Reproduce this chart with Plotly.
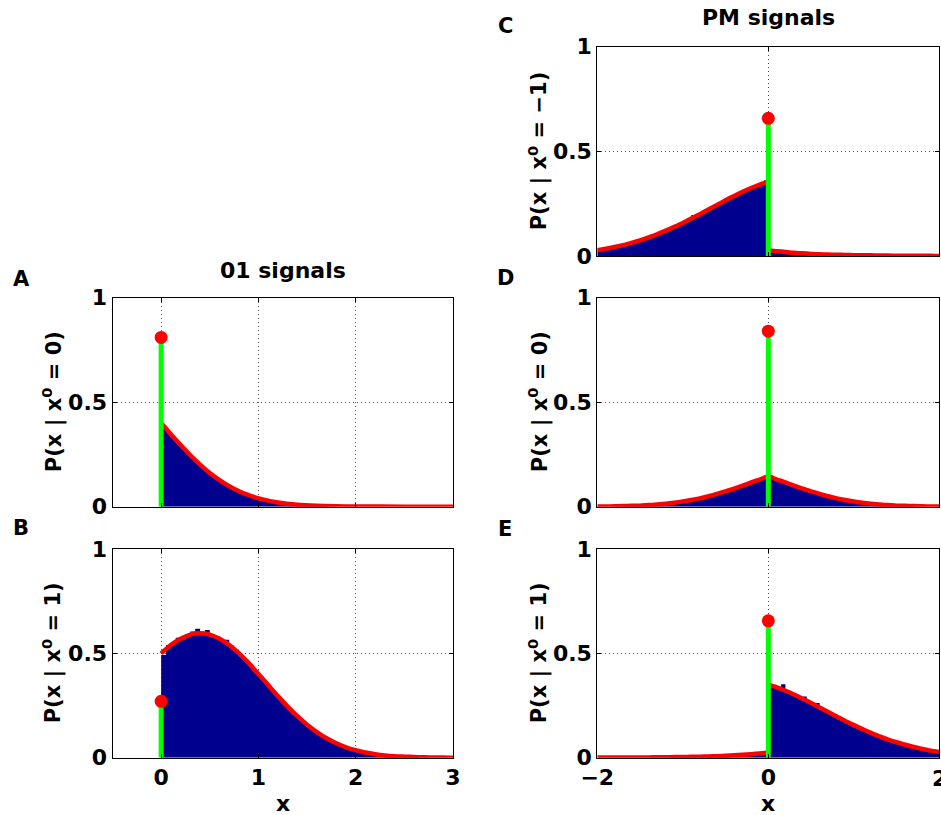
import numpy as np
import plotly.graph_objects as go

# ---------------- data ----------------
BIN_WIDTH = 0.05

# Panel A: 01 signals, x0 = 0
A_hist_start = 0.0
A_hist = [0.384, 0.362, 0.330, 0.309, 0.280, 0.259, 0.236, 0.210, 0.191, 0.170,
          0.153, 0.134, 0.120, 0.104, 0.092, 0.079, 0.070, 0.059, 0.051, 0.043,
          0.037, 0.031, 0.026, 0.022, 0.018, 0.015, 0.013, 0.010, 0.008, 0.007,
          0.006, 0.004, 0.004, 0.003, 0.002, 0.002, 0.001, 0.001, 0.001, 0.001]
A_curve_x = [0, 0.1, 0.2, 0.3, 0.4, 0.5, 0.6, 0.7, 0.8, 0.9, 1.0, 1.2, 1.4, 1.6, 1.8, 2.0, 2.5, 3.0]
A_curve_y = [0.400, 0.347, 0.295, 0.246, 0.201, 0.161, 0.127, 0.098, 0.074, 0.055,
             0.040, 0.020, 0.009, 0.004, 0.002, 0.001, 0.000, 0.000]
A_delta = 0.81

# Panel B: 01 signals, x0 = 1
B_hist_start = 0.0
B_hist = [0.492, 0.540, 0.552, 0.575, 0.568, 0.590, 0.605, 0.618, 0.598, 0.612,
          0.580, 0.583, 0.560, 0.565, 0.538, 0.517, 0.485, 0.470, 0.440, 0.420,
          0.392, 0.366, 0.338, 0.306, 0.285, 0.254, 0.236, 0.207, 0.190, 0.165,
          0.150, 0.129, 0.116, 0.098, 0.087, 0.074, 0.065, 0.054, 0.047, 0.039,
          0.033, 0.027, 0.023, 0.019, 0.015, 0.013, 0.010, 0.008, 0.007, 0.005,
          0.004, 0.003, 0.003, 0.002, 0.002, 0.001, 0.001, 0.001, 0.001, 0.000]
B_curve_x = [0.0, 0.1, 0.2, 0.3, 0.4, 0.5, 0.6, 0.7, 0.8, 0.9, 1.0, 1.1, 1.2, 1.3, 1.4, 1.5,
             1.6, 1.7, 1.8, 1.9, 2.0, 2.1, 2.2, 2.3, 2.4, 2.5, 2.6, 2.7, 2.8, 2.9, 3.0]
B_curve_y = [0.500, 0.540, 0.570, 0.590, 0.596, 0.590, 0.570, 0.540, 0.500, 0.453,
             0.401, 0.348, 0.295, 0.245, 0.199, 0.158, 0.123, 0.093, 0.069, 0.050,
             0.036, 0.025, 0.017, 0.011, 0.007, 0.005, 0.003, 0.002, 0.001, 0.001, 0.000]
B_delta = 0.27

# Right column grid for curves
PM_left_x = [-2.0, -1.9, -1.8, -1.7, -1.6, -1.5, -1.4, -1.3, -1.2, -1.1, -1.0,
             -0.9, -0.8, -0.7, -0.6, -0.5, -0.4, -0.3, -0.2, -0.1, 0.0]
PM_right_x = [0.0, 0.1, 0.2, 0.3, 0.4, 0.5, 0.6, 0.7, 0.8, 0.9, 1.0,
              1.1, 1.2, 1.3, 1.4, 1.5, 1.6, 1.7, 1.8, 1.9, 2.0]
PM_hist_start = -2.0

# Panel C: PM signals, x0 = -1
C_hist = [0.028, 0.032, 0.035, 0.041, 0.047, 0.048, 0.055, 0.058, 0.066, 0.070,
          0.080, 0.083, 0.093, 0.098, 0.110, 0.114, 0.126, 0.131, 0.146, 0.150,
          0.166, 0.170, 0.196, 0.190, 0.208, 0.213, 0.231, 0.236, 0.252, 0.257,
          0.274, 0.278, 0.295, 0.298, 0.316, 0.318, 0.333, 0.334, 0.348, 0.362,
          0.026, 0.024, 0.022, 0.020, 0.018, 0.016, 0.015, 0.013, 0.012, 0.011,
          0.010, 0.009, 0.008, 0.007, 0.007, 0.006, 0.005, 0.005, 0.004, 0.004,
          0.004, 0.003, 0.003, 0.003, 0.002, 0.002, 0.002, 0.002, 0.002, 0.001,
          0.001, 0.001, 0.001, 0.001, 0.001, 0.001, 0.001, 0.001, 0.000, 0.000]
C_left_y = [0.028, 0.035, 0.043, 0.052, 0.063, 0.075, 0.089, 0.104, 0.121, 0.139, 0.158,
            0.179, 0.200, 0.222, 0.244, 0.266, 0.287, 0.307, 0.325, 0.341, 0.355]
C_right_y = [0.028, 0.023, 0.019, 0.015, 0.013, 0.010, 0.008, 0.007, 0.006, 0.005, 0.004,
             0.003, 0.003, 0.002, 0.002, 0.001, 0.001, 0.001, 0.001, 0.001, 0.000]
C_delta = 0.658

# Panel D: PM signals, x0 = 0
D_hist = [0.001, 0.001, 0.001, 0.002, 0.002, 0.002, 0.003, 0.004, 0.004, 0.005,
          0.006, 0.007, 0.008, 0.010, 0.011, 0.013, 0.015, 0.018, 0.020, 0.023,
          0.026, 0.030, 0.033, 0.038, 0.042, 0.047, 0.052, 0.058, 0.064, 0.070,
          0.077, 0.083, 0.091, 0.097, 0.104, 0.112, 0.119, 0.126, 0.134, 0.141,
          0.139, 0.134, 0.126, 0.119, 0.112, 0.104, 0.097, 0.090, 0.083, 0.077,
          0.070, 0.064, 0.058, 0.052, 0.047, 0.042, 0.038, 0.033, 0.030, 0.026,
          0.023, 0.020, 0.017, 0.015, 0.013, 0.011, 0.010, 0.008, 0.007, 0.006,
          0.005, 0.004, 0.004, 0.003, 0.002, 0.002, 0.002, 0.001, 0.001, 0.001]
D_left_y = [0.001, 0.001, 0.002, 0.003, 0.004, 0.005, 0.008, 0.010, 0.014, 0.019, 0.025,
            0.032, 0.040, 0.050, 0.061, 0.073, 0.087, 0.101, 0.116, 0.130, 0.144]
D_right_y = [0.144, 0.130, 0.116, 0.101, 0.087, 0.073, 0.061, 0.050, 0.040, 0.032, 0.025,
             0.019, 0.014, 0.010, 0.008, 0.005, 0.004, 0.003, 0.002, 0.001, 0.001]
D_delta = 0.84

# Panel E: PM signals, x0 = 1
E_hist = [0.000, 0.001, 0.001, 0.001, 0.001, 0.001, 0.001, 0.001, 0.001, 0.001,
          0.001, 0.001, 0.002, 0.002, 0.002, 0.002, 0.002, 0.003, 0.003, 0.003,
          0.004, 0.004, 0.004, 0.005, 0.005, 0.006, 0.007, 0.007, 0.008, 0.009,
          0.010, 0.011, 0.012, 0.013, 0.014, 0.016, 0.018, 0.020, 0.022, 0.024,
          0.345, 0.342, 0.330, 0.352, 0.318, 0.305, 0.300, 0.286, 0.293, 0.266,
          0.259, 0.262, 0.233, 0.226, 0.212, 0.208, 0.190, 0.184, 0.170, 0.165,
          0.149, 0.144, 0.131, 0.126, 0.113, 0.108, 0.097, 0.094, 0.083, 0.079,
          0.070, 0.067, 0.058, 0.056, 0.048, 0.046, 0.039, 0.038, 0.032, 0.030]
E_left_y = [0.0005, 0.0006, 0.0007, 0.0008, 0.0010, 0.0012, 0.0015, 0.0019, 0.0023, 0.0028, 0.0034,
            0.0041, 0.0050, 0.0062, 0.0075, 0.0092, 0.0112, 0.0137, 0.0168, 0.0205, 0.025]
E_right_y = [0.350, 0.337, 0.321, 0.303, 0.283, 0.262, 0.241, 0.219, 0.198, 0.176, 0.156,
             0.137, 0.119, 0.102, 0.087, 0.074, 0.062, 0.051, 0.042, 0.034, 0.028]
E_delta = 0.656

Y_TICKS = [0, 0.5, 1]
Y_TICKTEXT = ["0", "0.5", "1"]
LEFT_X_TICKS = [0, 1, 2, 3]
RIGHT_X_TICKS = [-2, 0, 2]
RIGHT_X_TICKTEXT = ["\u22122", "0", "2"]

# ---------------- styling ----------------
W, H = 941, 815
NAVY = "#00008F"
RED = "#FF0000"
GREEN = "#00FF00"
FONT = "DejaVu Sans"


def px_x(p):
    return p / W


def px_y(p):
    return 1 - p / H


LEFT_DOM = [px_x(112.5), px_x(453.0)]
RIGHT_DOM = [px_x(597.3), px_x(939.3)]
ROW1 = [px_y(256.0), px_y(46.7)]
ROW2 = [px_y(506.7), px_y(297.7)]
ROW3 = [px_y(757.7), px_y(549.0)]

fig = go.Figure()


def hist_trace(start, vals, ax):
    edges = start + BIN_WIDTH * np.arange(len(vals) + 1)
    ys = list(vals) + [vals[-1]]
    return go.Scatter(x=edges, y=ys, mode="lines", line=dict(width=0, shape="hv", color=NAVY),
                      fill="tozeroy", fillcolor=NAVY, xaxis="x" + ax, yaxis="y" + ax,
                      hoverinfo="skip", showlegend=False)


def curve_trace(xs, ys, ax):
    return go.Scatter(x=xs, y=ys, mode="lines", line=dict(color=RED, width=4.5, shape="spline", smoothing=0.6),
                      xaxis="x" + ax, yaxis="y" + ax, showlegend=False, connectgaps=False)


def stem_traces(val, ax):
    return [
        go.Scatter(x=[0, 0], y=[0, val], mode="lines", line=dict(color=GREEN, width=5),
                   xaxis="x" + ax, yaxis="y" + ax, showlegend=False),
        go.Scatter(x=[0], y=[val], mode="markers", marker=dict(color=RED, size=13, line=dict(width=0)),
                   xaxis="x" + ax, yaxis="y" + ax, showlegend=False, cliponaxis=False),
    ]


panels = [
    ("", A_hist_start, A_hist, A_curve_x, A_curve_y, A_delta),
    ("2", B_hist_start, B_hist, B_curve_x, B_curve_y, B_delta),
    ("3", PM_hist_start, C_hist, PM_left_x + [None] + PM_right_x, C_left_y + [None] + C_right_y, C_delta),
    ("4", PM_hist_start, D_hist, PM_left_x + PM_right_x[1:], D_left_y + D_right_y[1:], D_delta),
    ("5", PM_hist_start, E_hist, PM_left_x + [None] + PM_right_x, E_left_y + [None] + E_right_y, E_delta),
]

for ax, hs, hv, cx, cy, dv in panels:
    fig.add_trace(hist_trace(hs, hv, ax))
    fig.add_trace(curve_trace(cx, cy, ax))
    for t in stem_traces(dv, ax):
        fig.add_trace(t)

TICK_FONT = dict(family=FONT, size=22, color="black", weight="bold")
common_axis = dict(showline=True, linecolor="black", linewidth=1, mirror="ticks",
                   ticks="inside", ticklen=4, tickcolor="black", showgrid=True,
                   gridcolor="#555555", griddash="1px,3px", gridwidth=1, zeroline=False,
                   automargin=False, tickfont=TICK_FONT)

# the last right-column tick label sits on the page edge; plotly drops it, so it is
# drawn as an annotation at the same data position
E_X_TICKTEXT = RIGHT_X_TICKTEXT[:-1] + [""]

layout_axes = {}
specs = [
    ("", LEFT_DOM, ROW2, [-0.5, 3], LEFT_X_TICKS, [str(v) for v in LEFT_X_TICKS], False),
    ("2", LEFT_DOM, ROW3, [-0.5, 3], LEFT_X_TICKS, [str(v) for v in LEFT_X_TICKS], True),
    ("3", RIGHT_DOM, ROW1, [-2, 2], RIGHT_X_TICKS, RIGHT_X_TICKTEXT, False),
    ("4", RIGHT_DOM, ROW2, [-2, 2], RIGHT_X_TICKS, RIGHT_X_TICKTEXT, False),
    ("5", RIGHT_DOM, ROW3, [-2, 2], RIGHT_X_TICKS, E_X_TICKTEXT, True),
]
for ax, xd, yd, xr, xt, xtt, showx in specs:
    layout_axes["xaxis" + ax] = dict(common_axis, domain=xd, range=xr, tickvals=xt, ticktext=xtt,
                                     showticklabels=showx, anchor="y" + ax, fixedrange=True)
    layout_axes["yaxis" + ax] = dict(common_axis, domain=yd, range=[0, 1], tickvals=Y_TICKS,
                                     ticktext=Y_TICKTEXT, anchor="x" + ax, fixedrange=True)

fig.update_layout(**layout_axes)

ann_font = dict(family=FONT, size=22, color="black", weight="bold")
annotations = []
# y-axis titles
ytitles = [
    (52, (297.7 + 506.7) / 2, "P(x | x<sup>0</sup> = 0)"),
    (52, (549.0 + 757.7) / 2, "P(x | x<sup>0</sup> = 1)"),
    (538, (46.7 + 256.0) / 2, "P(x | x<sup>0</sup> = \u22121)"),
    (538, (297.7 + 506.7) / 2, "P(x | x<sup>0</sup> = 0)"),
    (538, (549.0 + 757.7) / 2, "P(x | x<sup>0</sup> = 1)"),
]
for xp, yp, txt in ytitles:
    annotations.append(dict(text=txt, x=px_x(xp), y=px_y(yp), xref="paper", yref="paper",
                            textangle=-90, showarrow=False, xanchor="center", yanchor="middle",
                            font=dict(ann_font, size=21)))
# column titles
annotations.append(dict(text="01 signals", x=px_x(282.7), y=px_y(270), xref="paper", yref="paper",
                        showarrow=False, xanchor="center", yanchor="middle", font=ann_font))
annotations.append(dict(text="PM signals", x=px_x(768.3), y=px_y(18), xref="paper", yref="paper",
                        showarrow=False, xanchor="center", yanchor="middle", font=ann_font))
# x-axis titles
for xc in (282.7, 768.3):
    annotations.append(dict(text="x", x=px_x(xc), y=px_y(803), xref="paper", yref="paper",
                            showarrow=False, xanchor="center", yanchor="middle", font=ann_font))
# last x tick label of panel E (at the page edge)
annotations.append(dict(text=RIGHT_X_TICKTEXT[-1], x=RIGHT_X_TICKS[-1], xref="x5",
                        y=px_y(778.5), yref="paper", showarrow=False,
                        xanchor="center", yanchor="middle", font=TICK_FONT))
# panel letters
for letter, xp, yp in [("A", 21.3, 279), ("B", 21.3, 528), ("C", 505, 26), ("D", 505, 277.5), ("E", 505, 529)]:
    annotations.append(dict(text=letter, x=px_x(xp), y=px_y(yp), xref="paper", yref="paper",
                            showarrow=False, xanchor="center", yanchor="middle",
                            font=dict(ann_font, size=21)))

fig.update_layout(
    width=W, height=H,
    margin=dict(l=0, r=0, t=0, b=0, pad=0, autoexpand=False),
    paper_bgcolor="white", plot_bgcolor="white",
    font=dict(family=FONT, size=22, color="black", weight="bold"),
    annotations=annotations,
    showlegend=False,
)

fig.write_html("out.html", config={"displayModeBar": False},
               post_script="document.body.style.margin='0';document.body.style.overflow='hidden';")
